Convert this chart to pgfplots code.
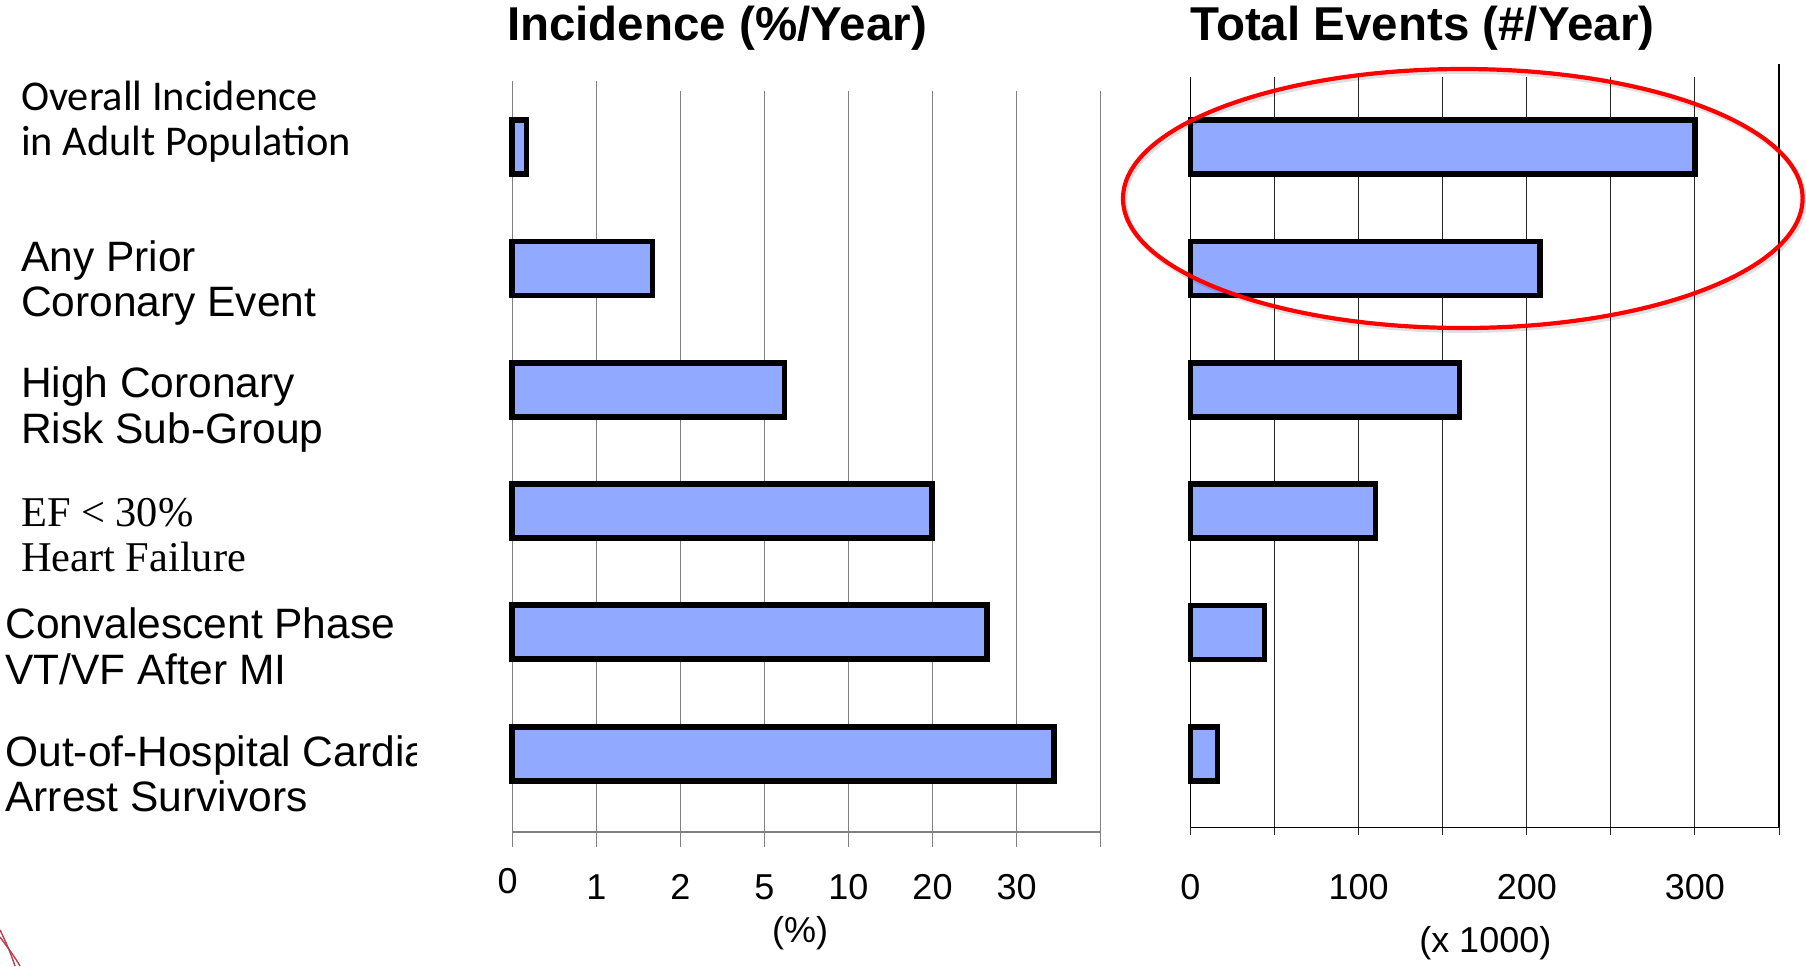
\documentclass[border=0pt]{standalone}
\usepackage{pgfplots}
\usepackage{pgfplotstable}
\pgfplotsset{compat=1.18}
\usepackage{fontspec}
\setmainfont{Liberation Sans}
\newfontfamily\arial{Liberation Sans}
\newfontfamily\calibri{Carlito}
\newfontfamily\timesf{Liberation Serif}

\definecolor{barblue}{RGB}{145,170,255}
\definecolor{gridgray}{RGB}{128,128,128}
\definecolor{ringred}{RGB}{255,0,0}
\definecolor{deco}{RGB}{190,60,80}

% pos: row of the group (5 = top). rate: incidence on the stepped scale,
% where 0,1,2,5,10,20,30 sit at equal spacing (positions 0..6).
% events: total events per year, in thousands.
\pgfplotstableread{
pos  rate   events
5    0.168  300
4    1.669  208
3    3.238  160
2    4.990  110
1    5.646  44
0    6.446  16
}\groups

\pgfplotsset{
  barstyle/.style={xbar, bar shift=0pt, bar width=27pt,
    fill=barblue, draw=black, line width=2.9pt},
}

\begin{document}
\begin{tikzpicture}
\path[use as bounding box] (0,0) rectangle (903pt,-483pt);

% panel titles
\node[anchor=base, inner sep=0pt, font=\arial\bfseries\fontsize{23.75}{28}\selectfont]
  at (358.5pt,-20.35pt) {Incidence (\%/Year)};
\node[anchor=base, inner sep=0pt, font=\arial\bfseries\fontsize{23.75}{28}\selectfont]
  at (711.25pt,-20.35pt) {Total Events (\#/Year)};

% group labels
\node[anchor=base west, inner sep=0pt, font=\calibri\fontsize{21.2}{22.5}\selectfont] at (10.35pt,-55pt) {Overall Incidence};
\node[anchor=base west, inner sep=0pt, font=\calibri\fontsize{21.2}{22.5}\selectfont] at (10.35pt,-77.5pt) {in Adult Population};
\node[anchor=base west, inner sep=0pt, font=\arial\fontsize{21.25}{22.5}\selectfont] at (10.35pt,-135.85pt) {Any Prior};
\node[anchor=base west, inner sep=0pt, font=\arial\fontsize{21.25}{22.5}\selectfont] at (10.35pt,-158.35pt) {Coronary Event};
\node[anchor=base west, inner sep=0pt, font=\arial\fontsize{21.25}{22.5}\selectfont] at (10.35pt,-198.65pt) {High Coronary};
\node[anchor=base west, inner sep=0pt, font=\arial\fontsize{21.25}{22.5}\selectfont] at (10.35pt,-221.65pt) {Risk Sub-Group};
\node[anchor=base west, inner sep=0pt, font=\timesf\fontsize{21.2}{22.5}\selectfont] at (10.35pt,-263.35pt) {EF < 30\%};
\node[anchor=base west, inner sep=0pt, font=\timesf\fontsize{21.2}{22.5}\selectfont] at (10.35pt,-285.85pt) {Heart Failure};
\node[anchor=base west, inner sep=0pt, font=\arial\fontsize{21.25}{22.5}\selectfont] at (2.5pt,-319.15pt) {Convalescent Phase};
\node[anchor=base west, inner sep=0pt, font=\arial\fontsize{21.25}{22.5}\selectfont] at (2.5pt,-342pt) {VT/VF After MI};
\begin{scope}
  \clip (0pt,-360pt) rectangle (208.35pt,-400pt);
  \node[anchor=base west, inner sep=0pt, font=\arial\fontsize{21.25}{22.5}\selectfont] at (2.5pt,-383.35pt) {Out-of-Hospital Cardiac};
\end{scope}
\node[anchor=base west, inner sep=0pt, font=\arial\fontsize{21.25}{22.5}\selectfont] at (2.5pt,-405.85pt) {Arrest Survivors};

% incidence panel
\begin{axis}[
  at={(256.15pt,-416pt)}, anchor=south west,
  scale only axis, width=294.15pt, height=370.5pt,
  xmin=0, xmax=7, ymin=-0.646, ymax=5.464,
  axis x line=bottom, axis y line=left,
  axis line style={-, draw=gridgray, line width=0.6pt},
  xtick={0,...,7},
  xticklabels={{\raisebox{3pt}{0}\hspace*{4.6pt}},1,2,5,10,20,30,{}},
  ytick=\empty,
  xmajorgrids,
  major grid style={draw=gridgray, line width=0.6pt},
  tick align=outside, major tick length=7.25pt,
  tick style={draw=gridgray, line width=0.6pt},
  xticklabel style={font=\arial\fontsize{18}{18}\selectfont, anchor=base, yshift=-26.25pt, inner sep=0pt},
  clip=false,
]
\addplot[barstyle] table[x=rate, y=pos] {\groups};
\draw[gridgray, line width=0.6pt] (rel axis cs:0,1) -- ++(0pt,5.2pt);
\draw[gridgray, line width=0.6pt] (rel axis cs:0.142857,1) -- ++(0pt,5.2pt);
\end{axis}

% total events panel
\begin{axis}[
  at={(595.25pt,-413.65pt)}, anchor=south west,
  scale only axis, width=294.25pt, height=375.3pt,
  xmin=0, xmax=350, ymin=-0.607, ymax=5.582,
  axis x line=bottom, axis y line=left,
  axis line style={-, draw=black, line width=0.6pt},
  xtick={0,50,...,350},
  xticklabels={0,{},100,{},200,{},300,{}},
  ytick=\empty,
  xmajorgrids,
  major grid style={draw=black!85, line width=0.5pt},
  tick align=outside, major tick length=3.85pt,
  tick style={draw=black!85, line width=0.5pt},
  xticklabel style={font=\arial\fontsize{18}{18}\selectfont, anchor=base, yshift=-32pt, inner sep=0pt},
  clip=false,
]
\addplot[barstyle] table[x=events, y=pos] {\groups};
\draw[black, line width=0.9pt] (rel axis cs:1,0) -- (rel axis cs:1,1) -- ++(0pt,6.2pt);
\end{axis}

% unit notes under the scales
\node[anchor=base, inner sep=0pt, font=\arial\fontsize{18}{18}\selectfont] at (400pt,-471.2pt) {(\%)};
\node[anchor=base, inner sep=0pt, font=\arial\fontsize{18}{18}\selectfont] at (742.65pt,-476pt) {(x 1000)};

% highlight ring around the two largest totals
\draw[black, opacity=0.12, line width=2.6pt] (732.2pt,-100.4pt) ellipse [x radius=169.9pt, y radius=64.75pt];
\draw[ringred, line width=2.1pt] (731.4pt,-99.25pt) ellipse [x radius=169.9pt, y radius=64.75pt];

% corner ornament
\draw[deco, line width=0.7pt] (0pt,-465pt) .. controls (3pt,-471pt) and (5.5pt,-477pt) .. (7.5pt,-483pt);
\draw[deco, line width=0.7pt] (0pt,-468.5pt) .. controls (4pt,-474pt) and (7.5pt,-478.5pt) .. (10pt,-483pt);
\end{tikzpicture}
\end{document}
